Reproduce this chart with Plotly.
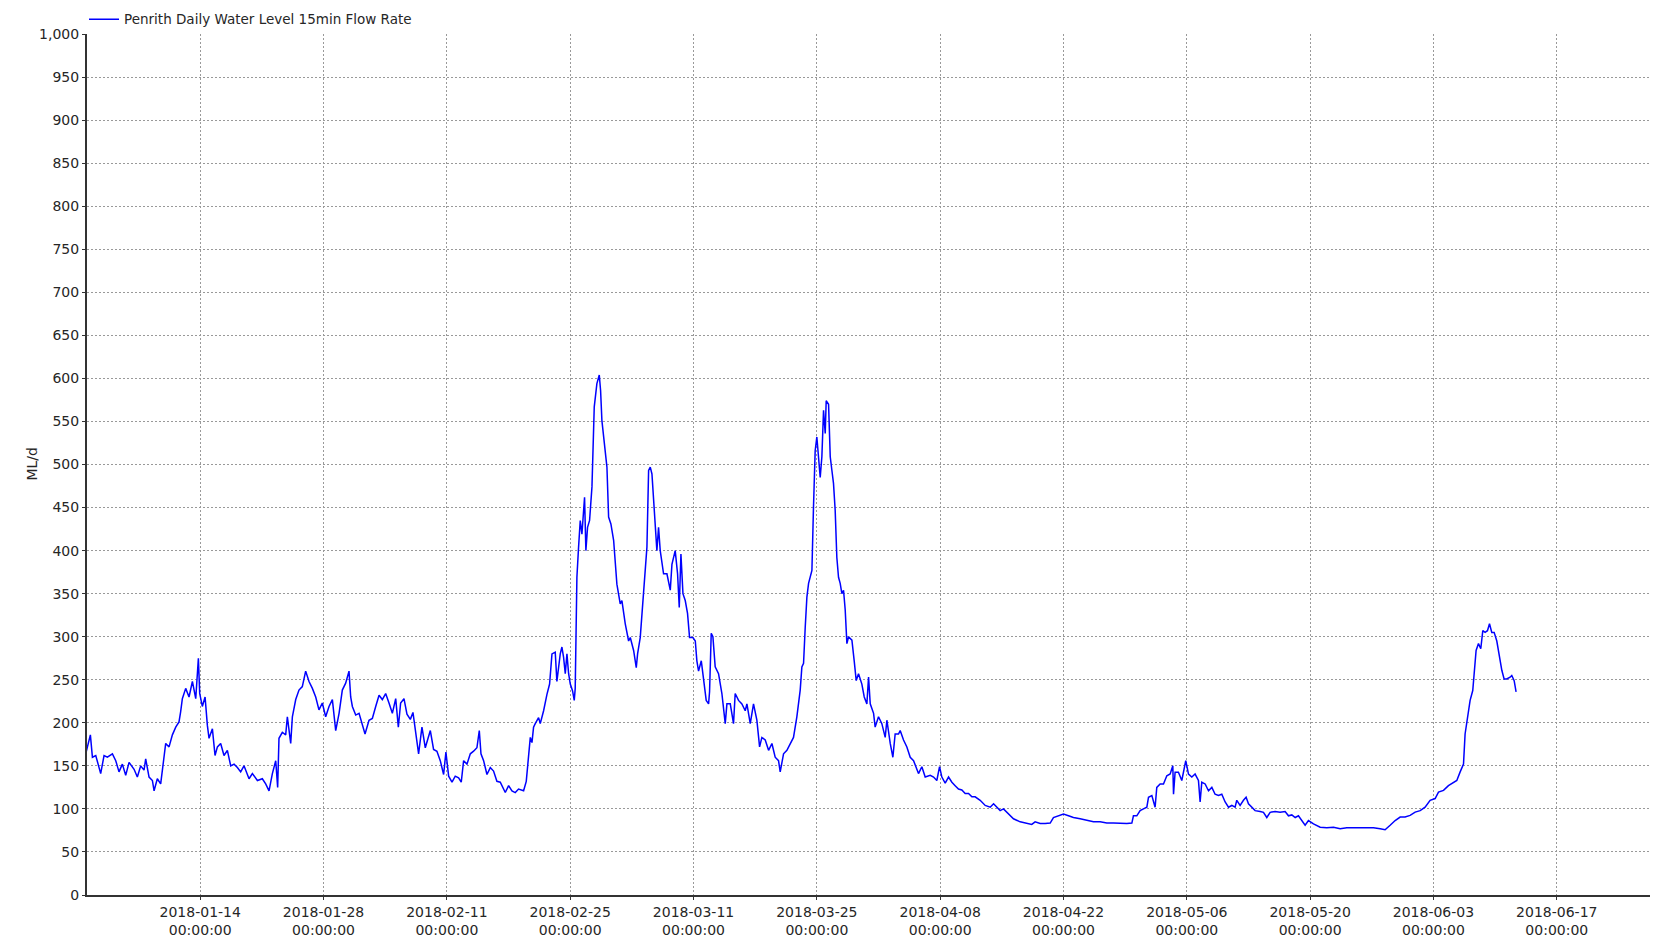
import pandas as pd
import plotly.graph_objects as go

START = pd.Timestamp("2018-01-01")
SERIES_NAME = "Penrith Daily Water Level 15min Flow Rate"
Y_TITLE = "ML/d"

# ---- data: days since 2018-01-01 00:00 and flow (ML/d) ----
days_jan = [0.00, 0.53, 0.76, 1.14, 1.70, 2.08, 2.46, 3.03, 3.41, 3.78,
            4.16, 4.54, 4.92, 5.49, 5.86, 6.24, 6.62, 6.81, 7.19, 7.57,
            7.76, 8.13, 8.51, 8.78, 9.08, 9.46, 9.84, 10.22, 10.59, 10.78,
            10.97, 11.35, 11.73, 12.11, 12.49, 12.79, 12.94, 13.24, 13.55, 13.81,
            14.00, 14.38, 14.68, 14.95, 15.32, 15.70, 16.08, 16.46, 16.84, 17.22,
            17.59, 17.97, 18.54, 18.92, 19.49, 20.05, 20.43, 20.81, 21.19, 21.57,
            21.79, 21.94, 22.32, 22.70, 22.89, 23.27, 23.46, 23.84, 24.21, 24.59,
            24.97, 25.35, 25.73, 26.11, 26.48, 26.86, 27.24, 27.62, 28.00, 28.38,
            28.76, 29.13, 29.51, 29.89, 30.08, 30.27, 30.65, 31.03, 31.40, 31.71,
            32.16, 32.54, 32.92, 33.30, 33.67, 34.05, 34.43, 34.81, 35.19, 35.49,
            35.75, 36.13]
flow_jan = [164, 186, 160, 162, 141, 162, 160, 164, 156, 143,
            152, 139, 154, 146, 137, 150, 145, 158, 137, 133,
            121, 135, 129, 150, 176, 172, 186, 195, 201, 213,
            228, 240, 230, 248, 228, 275, 234, 219, 230, 197,
            182, 193, 162, 172, 176, 162, 168, 150, 152, 148,
            143, 150, 135, 141, 133, 135, 129, 121, 141, 156,
            125, 182, 189, 186, 207, 176, 207, 227, 238, 242,
            260, 248, 240, 230, 215, 223, 207, 219, 227, 191,
            211, 238, 246, 260, 230, 219, 209, 211, 199, 187,
            203, 205, 219, 232, 227, 234, 223, 211, 228, 195,
            223, 228]

days_feb = [36.47, 36.85, 37.15, 37.41, 37.79, 38.17, 38.55, 39.12, 39.49, 39.87,
            40.25, 40.63, 40.89, 41.20, 41.58, 41.95, 42.33, 42.63, 42.90, 43.28,
            43.66, 44.03, 44.41, 44.68, 44.87, 45.17, 45.55, 45.93, 46.30, 46.68,
            47.06, 47.63, 48.01, 48.39, 48.76, 49.14, 49.71, 50.01, 50.28, 50.47,
            50.66, 50.84, 51.03, 51.41, 51.60, 51.98, 52.36, 52.66, 52.93, 53.30,
            53.49, 53.87, 54.06, 54.25, 54.44, 54.63, 54.82, 55.01, 55.27, 55.46,
            55.57, 55.76, 55.95, 56.14, 56.33, 56.52, 56.63, 56.78, 56.97, 57.20,
            57.47, 57.73, 58.03, 58.30, 58.45, 58.60, 58.79, 58.94, 59.17, 59.36,
            59.62, 59.93, 60.30, 60.68, 60.87, 61.25, 61.63, 61.82, 62.20, 62.50,
            62.65, 62.95, 63.33, 63.71, 63.90, 64.09, 64.28, 64.47, 64.65, 64.84,
            65.03, 65.22, 65.60, 65.98, 66.36, 66.55, 66.92, 67.19, 67.38, 67.57,
            67.80, 68.06, 68.32, 68.55, 68.93, 69.20, 69.38, 69.57, 69.88, 70.14,
            70.44, 70.71]
flow_feb = [210, 204, 212, 191, 164, 195, 171, 191, 169, 167,
            156, 140, 166, 138, 131, 138, 136, 131, 156, 152,
            164, 167, 171, 191, 164, 156, 140, 148, 144, 132,
            131, 119, 127, 121, 119, 123, 121, 132, 167, 183,
            177, 195, 199, 206, 199, 214, 233, 245, 280, 282,
            248, 280, 288, 276, 257, 280, 257, 245, 237, 226,
            240, 369, 404, 435, 419, 447, 462, 400, 427, 435,
            474, 567, 594, 604, 586, 551, 532, 516, 497, 439,
            431, 412, 361, 338, 342, 315, 295, 299, 284, 264,
            280, 299, 350, 404, 493, 497, 489, 458, 435, 400,
            427, 400, 373, 373, 354, 384, 400, 373, 334, 396,
            350, 342, 327, 299, 299, 295, 272, 260, 272, 249,
            226, 222]

days_mar = [70.82, 71.01, 71.20, 71.46, 71.84, 72.22, 72.60, 72.79, 73.17, 73.54,
            73.73, 74.11, 74.49, 74.87, 75.06, 75.44, 75.81, 76.19, 76.50, 76.76,
            77.14, 77.52, 77.90, 78.27, 78.65, 78.84, 79.22, 79.60, 79.98, 80.35,
            80.73, 81.11, 81.30, 81.49, 81.68, 81.87, 82.06, 82.44, 82.62, 82.81,
            83.00, 83.19, 83.38, 83.57, 83.76, 83.95, 84.06, 84.33, 84.52, 84.71,
            84.89, 85.08, 85.27, 85.46, 85.65, 85.84, 86.03, 86.22, 86.41, 86.60,
            86.98, 87.24, 87.47, 87.73, 88.11, 88.38, 88.68, 88.87, 89.06, 89.44,
            89.62, 90.00, 90.38, 90.76, 90.95, 91.33, 91.63, 91.89, 92.27, 92.46,
            92.84, 93.22, 93.60, 93.98, 94.54, 94.92, 95.30, 95.87, 96.25, 96.62,
            96.93, 97.19, 97.57, 97.95, 98.33, 98.70, 99.08, 99.46, 99.84, 100.22,
            100.60, 100.97, 101.54, 102.11, 102.68, 103.06, 103.43, 103.81]
flow_mar = [236, 304, 300, 265, 257, 234, 199, 222, 222, 199,
            234, 226, 222, 214, 222, 199, 222, 203, 172, 183,
            180, 168, 176, 160, 156, 143, 164, 168, 176, 183,
            207, 238, 265, 269, 311, 346, 362, 377, 451, 516,
            532, 505, 485, 509, 563, 536, 574, 570, 509, 493,
            478, 447, 392, 369, 362, 350, 354, 331, 292, 300,
            296, 272, 249, 257, 245, 230, 222, 253, 222, 211,
            195, 207, 199, 183, 203, 176, 160, 187, 187, 191,
            180, 172, 160, 156, 141, 149, 137, 139, 137, 133,
            149, 137, 130, 137, 131, 127, 123, 122, 118, 118,
            114, 114, 110, 104, 102, 106, 102, 98]

days_apr = [104.19, 104.57, 104.95, 105.32, 106.08, 106.84, 107.40, 107.78, 108.35, 108.92,
            109.49, 109.86, 110.43, 111.00, 111.57, 112.13, 112.89, 113.65, 114.40, 115.16,
            115.92, 116.67, 117.43, 118.19, 118.76, 118.94, 119.32, 119.70, 120.08, 120.46,
            120.65, 121.03, 121.40, 121.59, 121.97, 122.35, 122.73, 123.11, 123.41, 123.49,
            123.67, 124.05, 124.43, 124.62, 124.88, 125.19, 125.57, 125.94, 126.32, 126.51,
            126.70, 127.08, 127.46, 127.84, 128.21, 128.59, 128.97, 129.35, 129.73, 130.11,
            130.48, 130.67, 131.05, 131.43, 131.73, 132.00, 132.38, 132.75, 133.32, 133.70,
            134.08, 134.46, 135.02, 135.59, 136.16, 136.54, 136.92, 137.30, 137.67]
flow_apr = [100, 96, 92, 88.5, 85, 83, 82, 85, 83, 83,
            83.5, 90, 92, 94, 92, 90, 88.5, 86.5, 85, 85,
            83.5, 83.5, 83, 83, 83.5, 92, 92, 98, 100, 102,
            113.5, 115.5, 102, 125, 129, 129, 138.5, 140.5, 150, 117,
            142.5, 142.5, 133, 144.5, 156, 140.5, 137, 140.5, 133, 108,
            131, 129, 121, 125, 117, 115.5, 117, 108, 102, 104,
            102, 110, 104, 110, 113.5, 106, 102, 98, 97, 96,
            90, 96, 97, 96, 97, 92, 93, 90, 92]

days_may = [138.43, 138.81, 139.38, 140.14, 140.89, 141.65, 142.41, 143.16, 143.92, 144.68,
            145.43, 146.19, 146.95, 147.51, 148.08, 148.65, 149.22, 149.78, 150.35, 150.92,
            151.49, 152.05, 152.62, 153.19, 153.57, 154.14, 154.70, 155.27, 155.65, 156.03,
            156.41, 156.59, 156.78, 157.16, 157.46, 157.62, 157.84, 158.11, 158.37, 158.60,
            158.86, 159.13, 159.36, 159.62, 159.89, 160.19, 160.49, 160.76, 161.02, 161.32,
            161.70, 161.89, 162.16, 162.38]
flow_may = [81, 86.5, 82.7, 78.8, 78, 78.8, 77, 78, 78, 78.8,
            78, 78, 77, 75.8, 81, 86.5, 90.5, 90.5, 92.5, 96.3,
            98, 102, 110, 112, 119.5, 121.5, 127, 131, 133, 143,
            152, 187, 201, 226, 237.5, 255, 284, 292, 286, 307,
            305, 307, 315, 305, 305, 295, 274, 261, 251, 251,
            253, 255, 249, 236]

tick_dates = ["2018-01-14", "2018-01-28", "2018-02-11", "2018-02-25", "2018-03-11",
              "2018-03-25", "2018-04-08", "2018-04-22", "2018-05-06", "2018-05-20",
              "2018-06-03", "2018-06-17"]
x_range = ["2018-01-01 03:30", "2018-06-28 11:45"]
y_range = [0, 1000]

# ---- assemble ----
pairs = [(days_jan, flow_jan), (days_feb, flow_feb), (days_mar, flow_mar),
         (days_apr, flow_apr), (days_may, flow_may)]
days, flow = [], []
for d, f in pairs:
    assert len(d) == len(f), (len(d), len(f))
    days += d
    flow += f
times = START + pd.to_timedelta(days, unit="D")

FONT = "DejaVu Sans"
GRID = "#999999"
TXT = "#262626"
AXIS = "#333333"

fig = go.Figure()
fig.add_trace(go.Scatter(
    x=times, y=flow, mode="lines", name=SERIES_NAME,
    line=dict(color="#0000ff", width=1.5),
))

# the page body adds an 8px offset, so the figure is 8px smaller than the window
fig.update_layout(
    width=1650, height=930,
    margin=dict(l=79, r=0, t=26, b=43, pad=0, autoexpand=False),
    paper_bgcolor="white", plot_bgcolor="white",
    font=dict(family=FONT, size=14, color=TXT),
    showlegend=True,
    legend=dict(x=-0.0019, y=1.035, xanchor="left", yanchor="top",
                bgcolor="rgba(0,0,0,0)", borderwidth=0,
                font=dict(family=FONT, size=13.5, color=TXT),
                itemwidth=30, tracegroupgap=0),
    annotations=[dict(text=Y_TITLE, xref="paper", yref="paper", x=-0.042, y=0.5,
                      showarrow=False, textangle=-90,
                      font=dict(family=FONT, size=14, color=TXT))],
)

fig.update_xaxes(
    type="date", range=x_range, automargin=False,
    tickmode="array", tickvals=tick_dates,
    ticktext=[f"{t}<br>00:00:00" for t in tick_dates],
    showgrid=True, gridcolor=GRID, gridwidth=1, griddash="2px,2px",
    showline=True, linecolor=AXIS, linewidth=2,
    ticks="outside", ticklen=3, tickcolor=AXIS, tickwidth=1,
    zeroline=False, tickfont=dict(family=FONT, size=14, color=TXT),
)
fig.update_yaxes(
    range=y_range, dtick=50, tick0=0, tickformat=",", automargin=False,
    showgrid=True, gridcolor=GRID, gridwidth=1, griddash="2px,2px",
    showline=True, linecolor=AXIS, linewidth=2,
    ticks="outside", ticklen=3, tickcolor=AXIS, tickwidth=1,
    zeroline=False, tickfont=dict(family=FONT, size=14, color=TXT),
)

fig.write_html("out.html")
